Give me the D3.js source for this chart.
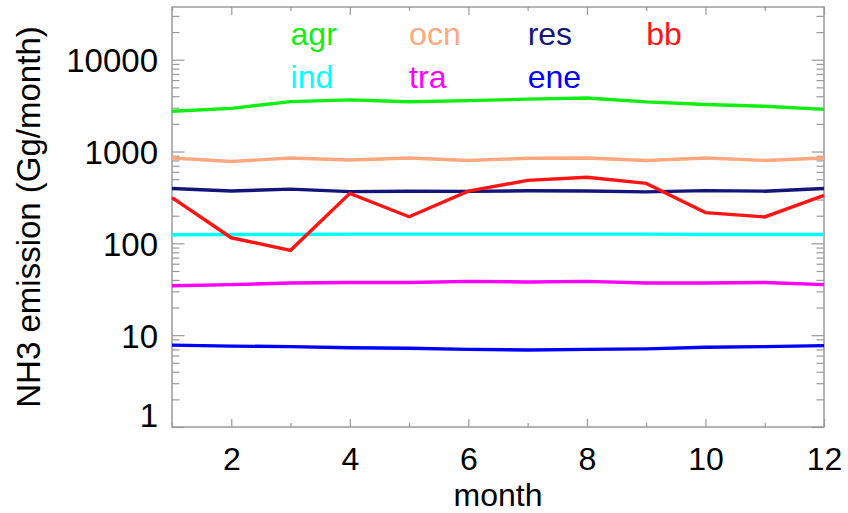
<!DOCTYPE html>
<html>
<head>
<meta charset="utf-8">
<script src="https://cdn.jsdelivr.net/npm/d3@7"></script>
<style>
  body { margin: 0; background: #fff; }
  text { font-family: "Liberation Sans", Arial, sans-serif; }
</style>
</head>
<body>
<div id="chart"></div>
<script>
var width = 848, height = 513;
var margin = {left: 172, right: 24, top: 7, bottom: 86};

// monthly NH3 emission per sector (Gg/month)
var months = [1, 2, 3, 4, 5, 6, 7, 8, 9, 10, 11, 12];
var agr = [2750, 2950, 3500, 3650, 3480, 3580, 3720, 3830, 3470, 3250, 3110, 2880];
var ocn = [850, 780, 850, 810, 850, 800, 845, 850, 800, 850, 800, 850];
var res = [395, 372, 390, 366, 370, 368, 374, 372, 364, 375, 370, 395];
var ind = [124, 125, 125, 126, 126, 126, 126, 126, 126, 125, 125, 125];
var tra = [34.5, 35.5, 37, 37.5, 37.5, 38.5, 38, 38.5, 37, 37, 37.5, 35.5];
var ene = [7.8, 7.6, 7.5, 7.3, 7.2, 7.0, 6.9, 7.0, 7.1, 7.4, 7.5, 7.7];
var bb = [315, 115, 84, 350, 195, 370, 485, 525, 450, 216, 194, 333];

var xTicks = [2, 4, 6, 8, 10, 12];
var yTicks = [1, 10, 100, 1000, 10000];

// legend: name, month where the label starts, row
var legendNames = ["agr", "ocn", "res", "bb", "ind", "tra", "ene"];
var legendMonth = [3, 5, 7, 9, 3, 5, 7];
var legendRow = [0, 0, 0, 0, 1, 1, 1];

var colors = {
  agr: "#11ee11", ocn: "#ffa880", res: "#14147a", bb: "#ff1414",
  ind: "#00ffff", tra: "#ff00ff", ene: "#0000ff"
};

var series = {agr: agr, ocn: ocn, res: res, ind: ind, tra: tra, ene: ene, bb: bb};
var drawOrder = ["agr", "ocn", "res", "ind", "tra", "ene", "bb"];

var svg = d3.select("#chart").append("svg")
  .attr("width", width)
  .attr("height", height);

var x = d3.scaleLinear().domain([1, 12]).range([margin.left, width - margin.right]);
var y = d3.scaleLog().domain([1, 37500]).range([height - margin.bottom, margin.top]);

var x0 = x.range()[0], x1 = x.range()[1], y0 = y.range()[0], y1 = y.range()[1];

// minor ticks
var xMinor = months.filter(function(m) { return m % 2 == 1; });
var yMinor = [];
for (var e = 0; e < 5; e++) {
  for (var k = 2; k < 10; k++) {
    var v = k * Math.pow(10, e);
    if (v < 37500) yMinor.push(v);
  }
}

var tickColor = "#9a9a9a";

function styleAxis(g) {
  g.select(".domain").remove();
  g.selectAll(".tick line").attr("stroke", tickColor).attr("stroke-width", 1.2);
  g.selectAll(".tick text")
    .attr("fill", "#000")
    .style("font-size", "32px")
    .style("font-family", "'Liberation Sans', Arial, sans-serif");
}

// bottom
svg.append("g").attr("transform", "translate(0," + y0 + ")")
  .call(d3.axisBottom(x).tickValues(xTicks).tickSize(-8).tickPadding(20).tickFormat(d3.format("d")))
  .call(styleAxis);
svg.append("g").attr("transform", "translate(0," + y0 + ")")
  .call(d3.axisBottom(x).tickValues(xMinor).tickSize(-4).tickFormat(""))
  .call(styleAxis);
// top
svg.append("g").attr("transform", "translate(0," + y1 + ")")
  .call(d3.axisTop(x).tickValues(xTicks).tickSize(-8).tickFormat(""))
  .call(styleAxis);
svg.append("g").attr("transform", "translate(0," + y1 + ")")
  .call(d3.axisTop(x).tickValues(xMinor).tickSize(-4).tickFormat(""))
  .call(styleAxis);
// left
var leftAxis = svg.append("g").attr("transform", "translate(" + x0 + ",0)")
  .call(d3.axisLeft(y).tickValues(yTicks).tickSize(-12.5).tickPadding(14).tickFormat(d3.format("d")))
  .call(styleAxis);
leftAxis.selectAll(".tick text").style("font-size", "33px").attr("dy", "0.36em");
leftAxis.selectAll(".tick text").filter(function(d) { return d === 1; }).attr("dy", "-0.02em");
svg.append("g").attr("transform", "translate(" + x0 + ",0)")
  .call(d3.axisLeft(y).tickValues(yMinor).tickSize(-7.5).tickFormat(""))
  .call(styleAxis);
// right
svg.append("g").attr("transform", "translate(" + x1 + ",0)")
  .call(d3.axisRight(y).tickValues(yTicks).tickSize(-12.5).tickFormat(""))
  .call(styleAxis);
svg.append("g").attr("transform", "translate(" + x1 + ",0)")
  .call(d3.axisRight(y).tickValues(yMinor).tickSize(-7.5).tickFormat(""))
  .call(styleAxis);

// frame
svg.append("rect")
  .attr("x", x0).attr("y", y1)
  .attr("width", x1 - x0).attr("height", y0 - y1)
  .attr("fill", "none")
  .attr("stroke", tickColor)
  .attr("stroke-width", 1.5);

// lines
var line = d3.line()
  .x(function(d, i) { return x(months[i]); })
  .y(function(d) { return y(d); });

svg.append("g").selectAll("path")
  .data(drawOrder)
  .enter()
  .append("path")
  .attr("d", function(name) { return line(series[name]); })
  .attr("fill", "none")
  .attr("stroke", function(name) { return colors[name]; })
  .attr("stroke-width", 3.4)
  .attr("stroke-linejoin", "miter");

// legend
svg.append("g").selectAll("text")
  .data(legendNames)
  .enter()
  .append("text")
  .attr("x", function(d, i) { return x(legendMonth[i]); })
  .attr("y", function(d, i) { return 45 + legendRow[i] * 42.5; })
  .attr("fill", function(d) { return colors[d]; })
  .style("font-size", "32px")
  .text(function(d) { return d; });

// axis titles
svg.append("text")
  .attr("x", (x0 + x1) / 2)
  .attr("y", 506)
  .attr("text-anchor", "middle")
  .style("font-size", "32px")
  .text("month");

svg.append("text")
  .attr("transform", "translate(40," + ((y0 + 7) / 2) + ") rotate(-90)")
  .attr("text-anchor", "middle")
  .style("font-size", "33px")
  .text("NH3 emission (Gg/month)");
</script>
</body>
</html>
